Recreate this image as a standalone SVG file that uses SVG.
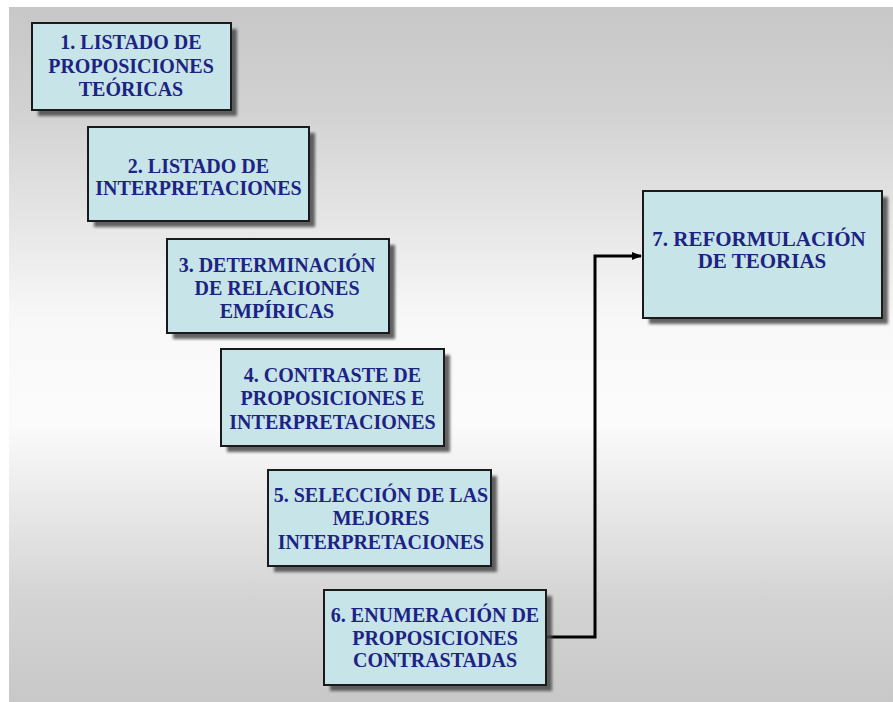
<svg xmlns="http://www.w3.org/2000/svg" width="893" height="702" viewBox="0 0 893 702">
<defs>
<linearGradient id="bg" x1="0" y1="0" x2="0" y2="1">
<stop offset="0" stop-color="#c7c7c7"/>
<stop offset="0.15" stop-color="#d2d2d2"/>
<stop offset="0.45" stop-color="#f8f8f8"/>
<stop offset="0.6" stop-color="#fbfbfb"/>
<stop offset="0.85" stop-color="#d4d4d4"/>
<stop offset="1" stop-color="#c8c8c8"/>
</linearGradient>
<filter id="blur" x="-10%" y="-10%" width="120%" height="120%">
<feGaussianBlur stdDeviation="1.5"/>
</filter>
<marker id="arrow" markerWidth="10" markerHeight="10" refX="9" refY="5" orient="auto" markerUnits="userSpaceOnUse">
<path d="M0,1 L10,5 L0,9 Z" fill="#000"/>
</marker>
<style>
.shadow{fill:#4a4a4a;filter:url(#blur);opacity:0.85}
.box{fill:#c7e4e9;stroke:#1a1a1a;stroke-width:2}
.t{font-family:"Liberation Serif","Times New Roman",serif;font-weight:bold;font-size:20px;fill:#1c2382;text-anchor:middle}
.conn{fill:none;stroke:#000;stroke-width:3}
</style>
</defs>
<rect x="0" y="0" width="893" height="702" fill="#ffffff"/>
<rect x="9" y="7" width="884" height="695" fill="url(#bg)"/>

<g id="connectors">
<path class="conn" d="M546,637 H595 V256 H641" marker-end="url(#arrow)"/>
</g>

<g id="node1">
<rect class="shadow" x="38" y="29" width="199" height="87"/>
<rect class="box" x="32" y="23" width="199" height="87"/>
<text class="t" x="131" y="48.5">1. LISTADO DE</text>
<text class="t" x="131" y="72.5">PROPOSICIONES</text>
<text class="t" x="131" y="96">TEÓRICAS</text>
</g>

<g id="node2">
<rect class="shadow" x="94" y="133" width="221" height="94"/>
<rect class="box" x="88" y="127" width="221" height="94"/>
<text class="t" x="198.5" y="172.5">2. LISTADO DE</text>
<text class="t" x="198.5" y="194.5">INTERPRETACIONES</text>
</g>

<g id="node3">
<rect class="shadow" x="173" y="245" width="222" height="94"/>
<rect class="box" x="167" y="239" width="222" height="94"/>
<text class="t" x="277" y="271.5">3. DETERMINACIÓN</text>
<text class="t" x="277" y="294.5">DE RELACIONES</text>
<text class="t" x="277" y="317.5">EMPÍRICAS</text>
</g>

<g id="node4">
<rect class="shadow" x="227" y="355" width="223" height="97"/>
<rect class="box" x="221" y="349" width="223" height="97"/>
<text class="t" x="332.5" y="381.5">4. CONTRASTE DE</text>
<text class="t" x="332.5" y="404.5">PROPOSICIONES E</text>
<text class="t" x="332.5" y="428.5">INTERPRETACIONES</text>
</g>

<g id="node5">
<rect class="shadow" x="274" y="476" width="223" height="96"/>
<rect class="box" x="268" y="470" width="223" height="96"/>
<text class="t" x="381" y="501.5">5. SELECCIÓN DE LAS</text>
<text class="t" x="381" y="524.5">MEJORES</text>
<text class="t" x="381" y="548.5">INTERPRETACIONES</text>
</g>

<g id="node6">
<rect class="shadow" x="330" y="596" width="222" height="95"/>
<rect class="box" x="324" y="590" width="222" height="95"/>
<text class="t" x="435" y="621.5">6. ENUMERACIÓN DE</text>
<text class="t" x="435" y="644.5">PROPOSICIONES</text>
<text class="t" x="435" y="666.5">CONTRASTADAS</text>
</g>

<g id="node7">
<rect class="shadow" x="649" y="197" width="239" height="127"/>
<rect class="box" x="643" y="191" width="239" height="127"/>
<text class="t" x="759" y="245.5" style="font-size:21px">7. REFORMULACIÓN</text>
<text class="t" x="762" y="267.5" style="font-size:21px">DE TEORIAS</text>
</g>
</svg>
